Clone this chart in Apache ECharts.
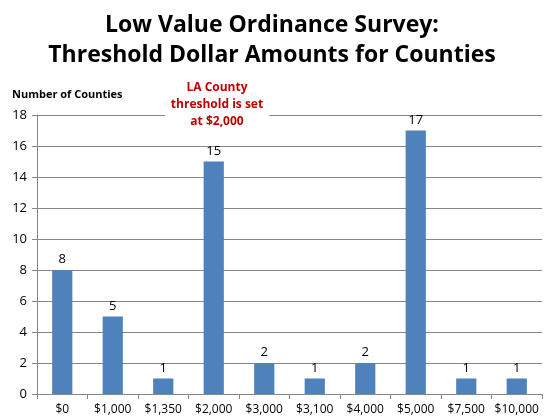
<!DOCTYPE html>
<html>
<head>
<meta charset="utf-8">
<script src="https://cdn.jsdelivr.net/npm/echarts@6/dist/echarts.min.js"></script>
<style>
  html, body { margin: 0; padding: 0; background: #fff; }
  #main { width: 544px; height: 417px; }
</style>
</head>
<body>
<div id="main"></div>
<script>
// data
var categories = ['$0', '$1,000', '$1,350', '$2,000', '$3,000', '$3,100', '$4,000', '$5,000', '$7,500', '$10,000'];
var counties = [8, 5, 1, 15, 2, 1, 2, 17, 1, 1];
var yTicks = { min: 0, max: 18, interval: 2 };

var myChart = echarts.init(document.getElementById('main'));

var option = {
  backgroundColor: '#fff',
  textStyle: { fontFamily: 'Open Sans' },
  title: {
    text: 'Low Value Ordinance Survey:\nThreshold Dollar Amounts for Counties',
    left: 'center',
    top: 5,
    textStyle: {
      fontFamily: 'Open Sans',
      fontWeight: 'bold',
      fontSize: 23,
      lineHeight: 30,
      color: '#000'
    }
  },
  graphic: [
    {
      type: 'text',
      left: 12,
      top: 89,
      style: {
        text: 'Number of Counties',
        font: 'bold 11px "Open Sans"',
        fill: '#000'
      }
    },
    {
      type: 'text',
      x: 217,
      y: 79,
      z: 100,
      style: {
        text: 'LA County\nthreshold is set\nat $2,000',
        font: 'bold 12px "Open Sans"',
        lineHeight: 17,
        align: 'center',
        verticalAlign: 'top',
        fill: '#c00000',
        backgroundColor: '#fff',
        padding: [0, 6]
      }
    }
  ],
  grid: {
    left: 37,
    right: 2,
    top: 115,
    bottom: 23
  },
  xAxis: {
    type: 'category',
    data: categories,
    axisLine: { lineStyle: { color: '#868686' } },
    axisTick: { show: true, length: 5, lineStyle: { color: '#868686' } },
    axisLabel: { color: '#000', fontSize: 12, margin: 10, interval: 0 }
  },
  yAxis: {
    type: 'value',
    min: yTicks.min,
    max: yTicks.max,
    interval: yTicks.interval,
    axisLine: { show: true, lineStyle: { color: '#868686' } },
    axisTick: { show: true, length: 5, lineStyle: { color: '#868686' } },
    axisLabel: { color: '#000', fontSize: 13, margin: 10 },
    splitLine: { lineStyle: { color: '#868686' } }
  },
  series: [{
    type: 'bar',
    data: counties,
    barWidth: '40%',
    itemStyle: { color: '#4f81bd' },
    label: {
      show: true,
      position: 'top',
      color: '#000',
      fontSize: 13,
      distance: 4
    }
  }]
};

myChart.setOption(option);
</script>
</body>
</html>
